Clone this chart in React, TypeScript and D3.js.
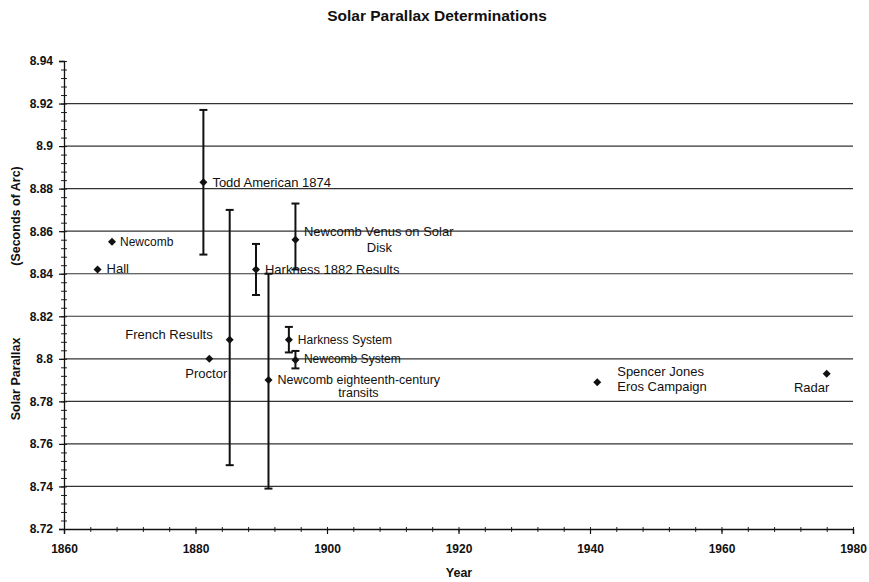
import React, { useEffect, useRef } from 'react';
import * as d3 from 'd3';

// values
const names = [
  "Hall", "Newcomb", "Todd American 1874", "Proctor", "French Results",
  "Harkness 1882 Results", "Newcomb eighteenth-century transits", "Harkness System",
  "Newcomb System", "Newcomb Venus on Solar Disk", "Spencer Jones Eros Campaign", "Radar"
];
const years = [1865.1, 1867.3, 1881.2, 1882.1, 1885.2, 1889.2, 1891.1, 1894.2, 1895.2, 1895.2, 1941.1, 1976.0];
const parallax = [8.842, 8.855, 8.883, 8.800, 8.809, 8.842, 8.790, 8.809, 8.7995, 8.856, 8.789, 8.793];
const errLow = [null, null, 8.849, null, 8.750, 8.830, 8.739, 8.803, 8.7955, 8.842, null, null];
const errHigh = [null, null, 8.917, null, 8.870, 8.854, 8.840, 8.815, 8.8037, 8.873, null, null];

const xTicks = [1860, 1880, 1900, 1920, 1940, 1960, 1980];
const xMinor = d3.range(1860, 1981, 4);
const yTicks = [8.72, 8.74, 8.76, 8.78, 8.8, 8.82, 8.84, 8.86, 8.88, 8.9, 8.92, 8.94];
const yTickLabels = ["8.72", "8.74", "8.76", "8.78", "8.8", "8.82", "8.84", "8.86", "8.88", "8.9", "8.92", "8.94"];
const yMinor = d3.range(0, 56).map(i => 8.72 + i * 0.004);

// label placement (pixels from the marker), one entry per point
type Line = { t: string; dx: number; dy: number; anchor?: string };
const labelLines: Line[][] = [
  [{ t: "Hall", dx: 9, dy: 4 }],
  [{ t: "Newcomb", dx: 8, dy: 4 }],
  [{ t: "Todd American 1874", dx: 9, dy: 4.5 }],
  [{ t: "Proctor", dx: -3, dy: 19, anchor: "middle" }],
  [{ t: "French Results", dx: -17, dy: -1, anchor: "end" }],
  [{ t: "Harkness 1882 Results", dx: 9, dy: 5 }],
  [{ t: "Newcomb eighteenth-century", dx: 9, dy: 4 }, { t: "transits", dx: 90, dy: 17, anchor: "middle" }],
  [{ t: "Harkness System", dx: 9, dy: 4.5 }],
  [{ t: "Newcomb System", dx: 8.5, dy: 3.5 }],
  [{ t: "Newcomb Venus on Solar", dx: 8.5, dy: -4 }, { t: "Disk", dx: 84, dy: 12, anchor: "middle" }],
  [{ t: "Spencer Jones", dx: 20, dy: -6 }, { t: "Eros Campaign", dx: 20, dy: 9 }],
  [{ t: "Radar", dx: -15, dy: 18, anchor: "middle" }],
];
const labelSize = [13, 12, 13, 13, 13, 13, 12.5, 12, 12, 13, 13, 13];

const W = 869;
const H = 582;
const FONT = '"Liberation Sans", Arial, sans-serif';

export default function App() {
  const svgRef = useRef<SVGSVGElement>(null);

  useEffect(() => {
    if (!svgRef.current) return;
    const svg = d3.select(svgRef.current);
    svg.selectAll("*").remove();

    const margin = { top: 61, right: 16, bottom: 53, left: 64 };
    const width = W - margin.left - margin.right;
    const height = H - margin.top - margin.bottom;

    const x = d3.scaleLinear().domain([1860, 1980]).range([0, width]);
    const y = d3.scaleLinear().domain([8.72, 8.94]).range([height, 0]);

    svg.append("rect").attr("width", W).attr("height", H).attr("fill", "#fff");

    // title
    svg.append("text")
      .attr("x", 437).attr("y", 21)
      .attr("text-anchor", "middle")
      .attr("font-family", FONT).attr("font-weight", "bold").attr("font-size", 15.5)
      .attr("fill", "#111")
      .text("Solar Parallax Determinations");

    const g = svg.append("g").attr("transform", `translate(${margin.left},${margin.top})`);

    // horizontal gridlines
    g.append("g")
      .selectAll("line")
      .data(yTicks.filter(v => v > 8.725 && v < 8.935))
      .enter()
      .append("line")
      .attr("x1", 0).attr("x2", width)
      .attr("y1", d => y(d)).attr("y2", d => y(d))
      .attr("stroke", "#333").attr("stroke-width", 1.2);

    // minor ticks
    g.append("g")
      .attr("transform", "translate(3,0)")
      .call(d3.axisLeft(y).tickValues(yMinor).tickSize(6).tickFormat(() => ""))
      .call(s => s.select(".domain").remove())
      .selectAll("line").attr("stroke", "#222");

    g.append("g")
      .attr("transform", `translate(0,${height - 2})`)
      .call(d3.axisBottom(x).tickValues(xMinor).tickSize(5).tickFormat(() => ""))
      .call(s => s.select(".domain").remove())
      .selectAll("line").attr("stroke", "#222");

    // axes
    const yAxis = g.append("g")
      .call(d3.axisLeft(y).tickValues(yTicks).tickSize(5).tickPadding(6)
        .tickFormat((_, i) => yTickLabels[i]));
    yAxis.select(".domain").attr("stroke", "#111").attr("stroke-width", 1.3);
    yAxis.selectAll("line").attr("stroke", "#111").attr("stroke-width", 1.2);
    yAxis.selectAll("text")
      .attr("font-family", FONT).attr("font-weight", "bold").attr("font-size", 12).attr("fill", "#111");

    const xAxis = g.append("g")
      .attr("transform", `translate(0,${height})`)
      .call(d3.axisBottom(x).tickValues(xTicks).tickSize(5).tickPadding(10).tickFormat(d3.format("d")));
    xAxis.select(".domain").attr("stroke", "#111").attr("stroke-width", 1.3);
    xAxis.selectAll("line").attr("stroke", "#111").attr("stroke-width", 1.2);
    xAxis.selectAll("text")
      .attr("font-family", FONT).attr("font-weight", "bold").attr("font-size", 12).attr("fill", "#111");

    // axis titles
    svg.append("text")
      .attr("x", 459).attr("y", 577)
      .attr("text-anchor", "middle")
      .attr("font-family", FONT).attr("font-weight", "bold").attr("font-size", 12.5)
      .attr("fill", "#111")
      .text("Year");

    const yTitle = svg.append("g").attr("transform", "translate(20,0) rotate(-90)");
    yTitle.append("text")
      .attr("x", -379).attr("y", 0)
      .attr("text-anchor", "middle")
      .attr("font-family", FONT).attr("font-weight", "bold").attr("font-size", 12.5)
      .attr("fill", "#111")
      .text("Solar Parallax");
    yTitle.append("text")
      .attr("x", -216).attr("y", 0)
      .attr("text-anchor", "middle")
      .attr("font-family", FONT).attr("font-weight", "bold").attr("font-size", 12.5)
      .attr("fill", "#111")
      .text("(Seconds of Arc)");

    const idx = d3.range(names.length);

    // error bars
    const bars = g.append("g")
      .selectAll("g")
      .data(idx.filter(i => errLow[i] !== null))
      .enter()
      .append("g")
      .attr("stroke", "#111")
      .attr("stroke-width", 2);
    bars.append("line")
      .attr("x1", i => x(years[i])).attr("x2", i => x(years[i]))
      .attr("y1", i => y(errLow[i] as number)).attr("y2", i => y(errHigh[i] as number));
    bars.append("line")
      .attr("x1", i => x(years[i]) - 4).attr("x2", i => x(years[i]) + 4)
      .attr("y1", i => y(errLow[i] as number)).attr("y2", i => y(errLow[i] as number));
    bars.append("line")
      .attr("x1", i => x(years[i]) - 4).attr("x2", i => x(years[i]) + 4)
      .attr("y1", i => y(errHigh[i] as number)).attr("y2", i => y(errHigh[i] as number));

    // markers
    g.append("g")
      .selectAll("path")
      .data(idx)
      .enter()
      .append("path")
      .attr("transform", i => `translate(${x(years[i])},${y(parallax[i])})`)
      .attr("d", "M0,-4L4,0L0,4L-4,0Z")
      .attr("fill", "#111");

    // point labels
    const labels = g.append("g");
    idx.forEach(i => {
      const px = x(years[i]);
      const py = y(parallax[i]);
      labelLines[i].forEach(l => {
        labels.append("text")
          .attr("x", px + l.dx).attr("y", py + l.dy)
          .attr("text-anchor", l.anchor || "start")
          .attr("font-family", FONT).attr("font-size", labelSize[i])
          .attr("fill", "#111")
          .text(l.t);
      });
    });
  }, []);

  return (
    <div style={{ position: 'absolute', left: 0, top: 0 }}>
      <svg ref={svgRef} width={W} height={H} style={{ display: 'block' }} />
    </div>
  );
}
